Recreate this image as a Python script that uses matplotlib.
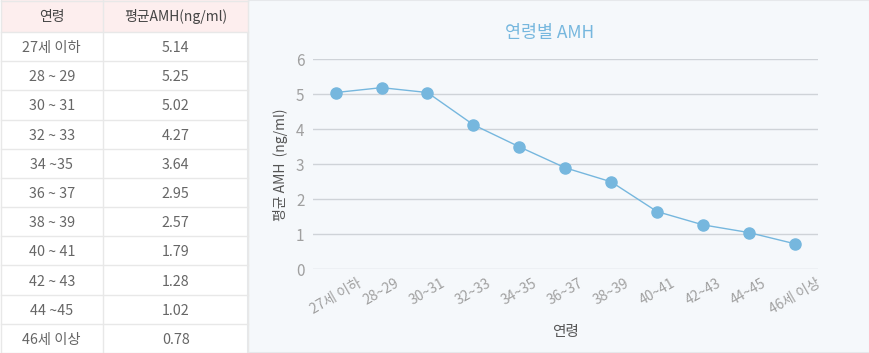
import matplotlib
matplotlib.use("Agg")
import matplotlib.pyplot as plt
from matplotlib.patches import Rectangle
import numpy as np

plt.rcParams["font.family"] = ["Noto Sans CJK KR", "DejaVu Sans"]

# table data
table_header = ["연령", "평균AMH(ng/ml)"]
table_ages = ["27세 이하", "28 ~ 29", "30 ~ 31", "32 ~ 33", "34 ~35", "36 ~ 37",
              "38 ~ 39", "40 ~ 41", "42 ~ 43", "44 ~45", "46세 이상"]
table_amh = ["5.14", "5.25", "5.02", "4.27", "3.64", "2.95",
             "2.57", "1.79", "1.28", "1.02", "0.78"]

# chart data (as plotted)
age_labels = ["27세 이하", "28~29", "30~31", "32~33", "34~35", "36~37",
              "38~39", "40~41", "42~43", "44~45", "46세 이상"]
amh_values = [5.05, 5.19, 5.05, 4.13, 3.50, 2.90, 2.50, 1.65, 1.27, 1.05, 0.73]

BLUE = "#76b7de"
GRID = "#cfd3d8"
TICK = "#a0a0a0"

W, H = 870, 353
fig = plt.figure(figsize=(W / 100, H / 100), dpi=100)
fig.patch.set_facecolor("white")

# background canvas in pixel coordinates
bg = fig.add_axes([0, 0, 1, 1])
bg.set_xlim(0, W)
bg.set_ylim(H, 0)
bg.axis("off")

# chart panel
bg.add_patch(Rectangle((248, 0), W - 248, H, facecolor="#f5f8fb",
                       edgecolor="#e6e8eb", lw=1.5))

# table
tx0, tx1, colx = 0.5, 248, 103.5
head_h = 32
row_h = (H - head_h) / len(table_ages)
bg.add_patch(Rectangle((tx0, 0), tx1 - tx0, head_h, facecolor="#fdeeee",
                       edgecolor="none"))
line_c = "#e8e8e8"
bg.plot([tx0, tx0], [0, H], color=line_c, lw=1)
bg.plot([tx1, tx1], [0, H], color=line_c, lw=1)
bg.plot([colx, colx], [0, H], color=line_c, lw=1)
bg.plot([tx0, tx1], [0.5, 0.5], color=line_c, lw=1)
for i in range(len(table_ages) + 1):
    y = head_h + i * row_h
    bg.plot([tx0, tx1], [y, y], color=line_c, lw=1)

bg.text(colx / 2, head_h / 2 + 1, table_header[0], ha="center", va="center",
        fontsize=10, color="#444444")
bg.text((colx + tx1) / 2, head_h / 2 + 1, table_header[1], ha="center",
        va="center", fontsize=10, color="#444444")
for i, (a, v) in enumerate(zip(table_ages, table_amh)):
    y = head_h + (i + 0.5) * row_h + 1.5
    bg.text(colx / 2, y, a, ha="center", va="center", fontsize=10.3,
            color="#666666")
    bg.text((colx + tx1) / 2, y, v, ha="center", va="center", fontsize=10.3,
            color="#666666")

# line chart
ax_l, ax_r, ax_t, ax_b = 312.7, 817.7, 59.3, 269.3
ax = fig.add_axes([ax_l / W, 1 - ax_b / H, (ax_r - ax_l) / W, (ax_b - ax_t) / H])
ax.set_facecolor("none")
x = np.arange(len(age_labels))
ax.plot(x, amh_values, color=BLUE, lw=1, marker="o", markersize=8,
        markerfacecolor=BLUE, markeredgecolor=BLUE, zorder=3)
ax.set_xlim(-0.5, len(age_labels) - 0.5)
ax.set_ylim(0, 6)
ax.set_yticks(range(7))
ax.yaxis.grid(True, color=GRID, lw=1)
ax.set_axisbelow(True)
for s in ax.spines.values():
    s.set_visible(False)
ax.tick_params(axis="both", length=0, colors=TICK)
ax.tick_params(axis="y", pad=6, labelsize=11)
ax.set_xticks(x)
ax.set_xticklabels(age_labels, rotation=30, ha="center", fontsize=10)
ax.tick_params(axis="x", pad=5)
ax.set_xlabel("연령", fontsize=10.5, color="#555555", labelpad=6)
ax.set_ylabel("평균 AMH  (ng/ml)", fontsize=10, color="#555555", labelpad=6)
ax.set_title("연령별 AMH", fontsize=12.5, color=BLUE, pad=15, x=0.47)

fig.savefig("out.png", dpi=100)
